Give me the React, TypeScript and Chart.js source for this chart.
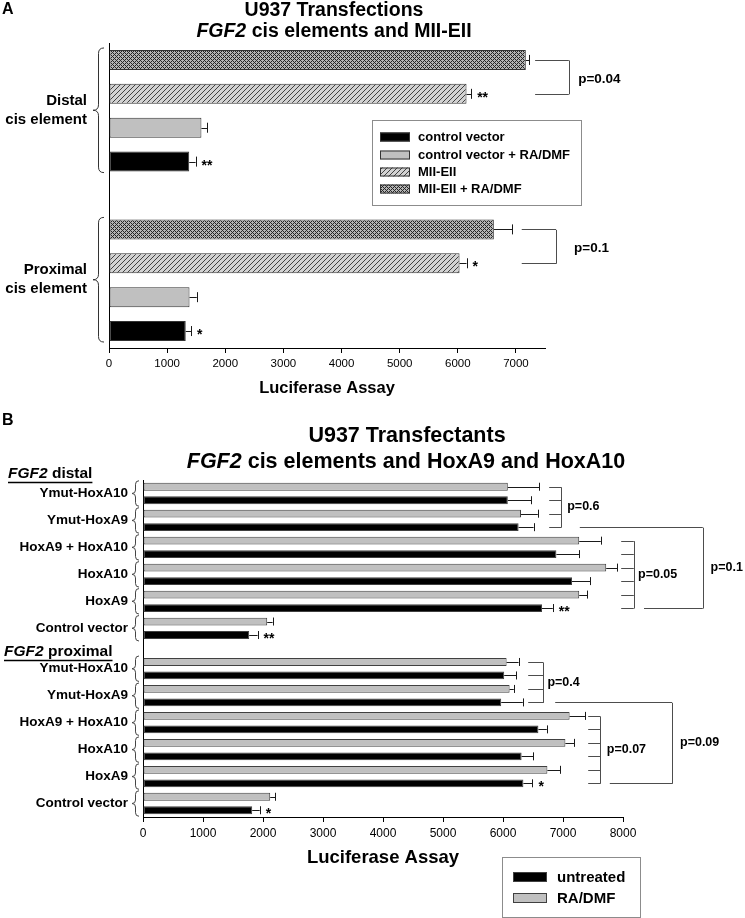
import React, { useEffect, useRef } from "react";
import { Chart, registerables } from "chart.js";

Chart.register(...registerables);

const FONT = "'Liberation Sans', Arial, Helvetica, sans-serif";

/* ================= Panel A : U937 Transfections ================= */
const aElements = ["Distal", "Proximal"];
const aElementLines = [["Distal", "cis element"], ["Proximal", "cis element"]];
const aSeries = ["control vector", "control vector + RA/DMF", "MII-EII", "MII-EII + RA/DMF"];
const aControl = [1380, 1320];
const aControlErr = [110, 90];
const aControlRA = [1590, 1385];
const aControlRAErr = [100, 125];
const aMII = [6150, 6030];
const aMIIErr = [80, 120];
const aMIIRA = [7170, 6620];
const aMIIRAErr = [55, 320];
const aXTicks = [0, 1000, 2000, 3000, 4000, 5000, 6000, 7000];
const aXMax = 7500;
const aPValues = ["p=0.04", "p=0.1"];
const aStarSeries = [2, 0, 2, 0];
const aStarElement = [0, 0, 1, 1];
const aStarText = ["**", "**", "*", "*"];

/* ================= Panel B : U937 Transfectants ================= */
const bSections = ["distal", "proximal"];
const bConstructs = ["Ymut-HoxA10", "Ymut-HoxA9", "HoxA9 + HoxA10", "HoxA10", "HoxA9", "Control vector"];
const bSeries = ["untreated", "RA/DMF"];
const bDistalUntreated = [6080, 6260, 6890, 7150, 6650, 1770];
const bDistalUntreatedErr = [390, 250, 380, 300, 180, 140];
const bDistalRA = [6080, 6300, 7270, 7720, 7270, 2070];
const bDistalRAErr = [520, 280, 360, 180, 130, 90];
const bProxUntreated = [6020, 5970, 6590, 6310, 6340, 1820];
const bProxUntreatedErr = [200, 360, 140, 190, 150, 125];
const bProxRA = [6060, 6110, 7110, 7040, 6740, 2120];
const bProxRAErr = [200, 70, 260, 150, 210, 80];
const bXTicks = [0, 1000, 2000, 3000, 4000, 5000, 6000, 7000, 8000];
const bXMax = 8000;
const bPValuesInner = ["p=0.6", "p=0.05", "p=0.4", "p=0.07"];
const bPValuesOuter = ["p=0.1", "p=0.09"];
const bStarSection = [0, 0, 1, 1];
const bStarGroup = [4, 5, 4, 5];
const bStarText = ["**", "**", "*", "*"];

/* ---------- annotation geometry (in axis value units) ---------- */
const aBracketGeom = [
  { element: 0, series: [3, 2], from: 7330, to: 7910, textAt: 8070 },
  { element: 1, series: [3, 2], from: 7100, to: 7690, textAt: 8000 },
];
const bInnerGeom = [
  { section: 0, groups: [0, 1], from: 6770, to: 6970, textAt: 7070 },
  { section: 0, groups: [2, 3, 4], from: 7970, to: 8180, textAt: 8250 },
  { section: 1, groups: [0, 1], from: 6420, to: 6670, textAt: 6740 },
  { section: 1, groups: [2, 3, 4], from: 7420, to: 7620, textAt: 7730 },
];
const bOuterGeom = [
  { section: 0, topGroup: 1, botGroup: 4, topFrom: 7280, botFrom: 8350, at: 9330, textAt: 9460 },
  { section: 1, topGroup: 1, botGroup: 4, topFrom: 6870, botFrom: 7780, at: 8820, textAt: 8950 },
];

/* ---------------- helpers ---------------- */
const aValues = [aControl, aControlRA, aMII, aMIIRA];
const aErrors = [aControlErr, aControlRAErr, aMIIErr, aMIIRAErr];
const A_SLOTS = 9;
function slotA(series: number, element: number) {
  return element * 5 + (3 - series);
}
const B_SLOTS = 25;
function slotB(section: number, group: number, series: number) {
  return section * 13 + group * 2 + (series === 1 ? 0 : 1);
}
const bValues = [
  [bDistalUntreated, bProxUntreated],
  [bDistalRA, bProxRA],
];
const bErrors = [
  [bDistalUntreatedErr, bProxUntreatedErr],
  [bDistalRAErr, bProxRAErr],
];

function txt(ctx: any, s: string, x: number, y: number, font: string, align = "left", baseline = "middle") {
  ctx.font = font;
  ctx.textAlign = align;
  ctx.textBaseline = baseline;
  ctx.fillText(s, x, y);
}

function rich(ctx: any, parts: { t: string; i?: boolean }[], x: number, y: number, size: number, align: string) {
  const fonts = parts.map((p) => `${p.i ? "italic " : ""}bold ${size}px ${FONT}`);
  const widths = parts.map((p, k) => {
    ctx.font = fonts[k];
    return ctx.measureText(p.t).width;
  });
  const total = widths.reduce((a, b) => a + b, 0);
  let cx = align === "center" ? x - total / 2 : align === "right" ? x - total : x;
  const left = cx;
  ctx.textAlign = "left";
  ctx.textBaseline = "middle";
  parts.forEach((p, k) => {
    ctx.font = fonts[k];
    ctx.fillText(p.t, cx, y);
    cx += widths[k];
  });
  return { left, right: cx };
}

function hline(ctx: any, x0: number, x1: number, y: number) {
  const yy = Math.round(y) + 0.5;
  ctx.beginPath();
  ctx.moveTo(x0, yy);
  ctx.lineTo(x1, yy);
  ctx.stroke();
}
function vline(ctx: any, x: number, y0: number, y1: number) {
  const xx = Math.round(x) + 0.5;
  ctx.beginPath();
  ctx.moveTo(xx, y0);
  ctx.lineTo(xx, y1);
  ctx.stroke();
}

function brace(ctx: any, xr: number, y0: number, y1: number, w: number) {
  const xs = xr - w * 0.5;
  const xt = xr - w;
  const ym = (y0 + y1) / 2;
  const r = Math.min(w * 0.5, (y1 - y0) / 4);
  ctx.beginPath();
  ctx.moveTo(xr, y0);
  ctx.quadraticCurveTo(xs, y0, xs, y0 + r);
  ctx.lineTo(xs, ym - r);
  ctx.quadraticCurveTo(xs, ym, xt, ym);
  ctx.quadraticCurveTo(xs, ym, xs, ym + r);
  ctx.lineTo(xs, y1 - r);
  ctx.quadraticCurveTo(xs, y1, xr, y1);
  ctx.stroke();
}

function drawErrorBars(chart: any, capHalf: number) {
  const xs = chart.scales.x;
  const ctx = chart.ctx;
  ctx.strokeStyle = "#1a1a1a";
  ctx.lineWidth = 1;
  chart.data.datasets.forEach((ds: any, di: number) => {
    const meta = chart.getDatasetMeta(di);
    ds.data.forEach((v: any, i: number) => {
      const e = ds.errors ? ds.errors[i] : null;
      if (v == null || e == null) return;
      const el: any = meta.data[i];
      const x0 = xs.getPixelForValue(v);
      const x1 = xs.getPixelForValue(v + e);
      hline(ctx, x0, x1, el.y);
      vline(ctx, x1, el.y - capHalf, el.y + capHalf);
    });
  });
}

function makePatterns() {
  const h = document.createElement("canvas");
  h.width = 5;
  h.height = 5;
  const hg = h.getContext("2d")!;
  hg.fillStyle = "#d2d2d2";
  hg.fillRect(0, 0, 5, 5);
  hg.strokeStyle = "#404040";
  hg.lineWidth = 1;
  hg.beginPath();
  hg.moveTo(-1, 6);
  hg.lineTo(6, -1);
  hg.moveTo(-1, 1);
  hg.lineTo(1, -1);
  hg.moveTo(4, 6);
  hg.lineTo(6, 4);
  hg.stroke();
  const hatch = hg.createPattern(h, "repeat");

  const c = document.createElement("canvas");
  c.width = 4;
  c.height = 4;
  const cg = c.getContext("2d")!;
  cg.fillStyle = "#b4b4b4";
  cg.fillRect(0, 0, 4, 4);
  cg.fillStyle = "#262626";
  for (let i = 0; i < 4; i++) {
    for (let j = 0; j < 4; j++) {
      if ((i + j) % 4 === 0 || (i - j + 4) % 4 === 0) cg.fillRect(i, j, 1, 1);
    }
  }
  const cross = cg.createPattern(c, "repeat");
  return { hatch, cross };
}

function linearX(max: number, ticks: number[], size: number, pad: number, height: number) {
  return {
    type: "linear",
    min: 0,
    max,
    afterBuildTicks: (scale: any) => {
      scale.ticks = ticks.map((v) => ({ value: v }));
    },
    ticks: {
      font: { family: FONT, size },
      color: "#000",
      padding: pad,
      maxRotation: 0,
      autoSkip: false,
      callback: (v: any) => String(v),
    },
    grid: { drawOnChartArea: false, drawTicks: true, tickLength: 5, color: "#000" },
    border: { display: true, color: "#000", width: 1 },
    afterFit: (scale: any) => {
      scale.height = height;
    },
  };
}
const yHidden = {
  type: "category",
  ticks: { display: false },
  grid: { display: false, drawTicks: false },
  border: { display: true, color: "#000", width: 1 },
  afterFit: (scale: any) => {
    scale.width = 0;
  },
};

/* ---------------- Panel A chart ---------------- */
function buildA(p: any) {
  const fills = ["#000000", "#c0c0c0", p.hatch, p.cross];
  const labels = Array.from({ length: A_SLOTS }, () => "");
  aElements.forEach((el, e) => aSeries.forEach((s, k) => (labels[slotA(k, e)] = `${el} ${s}`)));
  const datasets = aSeries.map((name, s) => {
    const data: (number | null)[] = Array(A_SLOTS).fill(null);
    const errors: (number | null)[] = Array(A_SLOTS).fill(null);
    aElements.forEach((_, e) => {
      data[slotA(s, e)] = aValues[s][e];
      errors[slotA(s, e)] = aErrors[s][e];
    });
    return {
      label: name,
      data,
      errors,
      backgroundColor: fills[s],
      borderColor: "#333",
      borderWidth: 1,
      borderSkipped: false,
      grouped: false,
      categoryPercentage: 1,
      barPercentage: 0.59,
    };
  });

  const plugin = {
    id: "panelA",
    afterDraw(chart: any) {
      const ctx = chart.ctx;
      const xs = chart.scales.x;
      const ys = chart.scales.y;
      ctx.save();
      drawErrorBars(chart, 5);
      ctx.fillStyle = "#000";
      // significance stars
      aStarText.forEach((t, k) => {
        const s = aStarSeries[k];
        const e = aStarElement[k];
        const x = xs.getPixelForValue(aValues[s][e] + aErrors[s][e]) + 6;
        const y = ys.getPixelForValue(slotA(s, e));
        txt(ctx, t, x, y + 8, `bold 14px ${FONT}`, "left", "alphabetic");
      });
      // brackets
      ctx.strokeStyle = "#4d4d4d";
      ctx.lineWidth = 1;
      aBracketGeom.forEach((b, k) => {
        const ysList = b.series.map((s) => ys.getPixelForValue(slotA(s, b.element)));
        const x0 = xs.getPixelForValue(b.from);
        const x1 = xs.getPixelForValue(b.to);
        ysList.forEach((y) => hline(ctx, x0, x1, y));
        vline(ctx, x1, Math.min(...ysList) + 0.5, Math.max(...ysList) + 0.5);
        const mid = (ysList[0] + ysList[ysList.length - 1]) / 2;
        txt(ctx, aPValues[k], xs.getPixelForValue(b.textAt), mid + 2, `bold 13.5px ${FONT}`);
      });
      // element braces & labels
      aElements.forEach((_, e) => {
        const yTop = ys.getPixelForValue(slotA(3, e)) - 12;
        const yBot = ys.getPixelForValue(slotA(0, e)) + 11;
        ctx.strokeStyle = "#333";
        brace(ctx, 104, yTop, yBot, 11);
        const mid = (yTop + yBot) / 2;
        txt(ctx, aElementLines[e][0], 87, mid - 9.5, `bold 15px ${FONT}`, "right");
        txt(ctx, aElementLines[e][1], 87, mid + 9.5, `bold 15px ${FONT}`, "right");
      });
      // legend
      ctx.strokeStyle = "#8c8c8c";
      ctx.strokeRect(372.5, 120.5, 209, 85);
      const rows = [137, 155, 172, 189];
      aSeries.forEach((name, s) => {
        ctx.fillStyle = fills[s];
        ctx.fillRect(380, rows[s] - 4.5, 30, 9);
        ctx.strokeStyle = "#333";
        ctx.strokeRect(380.5, rows[s] - 4, 29, 8);
        ctx.fillStyle = "#000";
        txt(ctx, name, 418, rows[s] + 0.5, `bold 13px ${FONT}`);
      });
      // panel letter and titles
      ctx.fillStyle = "#000";
      txt(ctx, "A", 2, 10, `bold 16px ${FONT}`);
      txt(ctx, "U937 Transfections", 334, 11, `bold 19.5px ${FONT}`, "center");
      rich(ctx, [{ t: "FGF2", i: true }, { t: " cis elements and MII-EII" }], 334, 32, 19.5, "center");
      // x axis title
      txt(ctx, "Luciferase Assay", (xs.left + xs.right) / 2, 388, `bold 16.5px ${FONT}`, "center");
      ctx.restore();
    },
  };

  return {
    type: "bar",
    data: { labels, datasets },
    options: {
      indexAxis: "y",
      animation: false,
      responsive: false,
      devicePixelRatio: 1,
      layout: { padding: { left: 109, right: 200, top: 43, bottom: 0 } },
      plugins: { legend: { display: false }, tooltip: { enabled: false }, title: { display: false } },
      scales: {
        x: linearX(aXMax, aXTicks, 11.5, 4, 52),
        y: yHidden,
      },
    },
    plugins: [plugin],
  };
}

/* ---------------- Panel B chart ---------------- */
function buildB() {
  const fills = ["#000000", "#c0c0c0"];
  const labels = Array.from({ length: B_SLOTS }, () => "");
  bSections.forEach((sec, si) =>
    bConstructs.forEach((c, g) => bSeries.forEach((s, k) => (labels[slotB(si, g, k)] = `${sec} ${c} ${s}`)))
  );
  const datasets = bSeries.map((name, k) => {
    const data: (number | null)[] = Array(B_SLOTS).fill(null);
    const errors: (number | null)[] = Array(B_SLOTS).fill(null);
    bSections.forEach((_, si) =>
      bConstructs.forEach((_, g) => {
        data[slotB(si, g, k)] = bValues[k][si][g];
        errors[slotB(si, g, k)] = bErrors[k][si][g];
      })
    );
    return {
      label: name,
      data,
      errors,
      backgroundColor: fills[k],
      borderColor: "#404040",
      borderWidth: 1,
      borderSkipped: false,
      grouped: false,
      categoryPercentage: 1,
      barPercentage: 0.58,
    };
  });

  const plugin = {
    id: "panelB",
    afterDraw(chart: any) {
      const ctx = chart.ctx;
      const xs = chart.scales.x;
      const ys = chart.scales.y;
      ctx.save();
      drawErrorBars(chart, 4);
      ctx.fillStyle = "#000";
      bStarText.forEach((t, k) => {
        const si = bStarSection[k];
        const g = bStarGroup[k];
        const x = xs.getPixelForValue(bValues[0][si][g] + bErrors[0][si][g]) + 6;
        const y = ys.getPixelForValue(slotB(si, g, 0));
        txt(ctx, t, x, y + 8, `bold 14px ${FONT}`, "left", "alphabetic");
      });
      ctx.strokeStyle = "#4d4d4d";
      ctx.lineWidth = 1;
      bInnerGeom.forEach((b, k) => {
        const list: number[] = [];
        b.groups.forEach((g) => {
          list.push(ys.getPixelForValue(slotB(b.section, g, 1)));
          list.push(ys.getPixelForValue(slotB(b.section, g, 0)));
        });
        const x0 = xs.getPixelForValue(b.from);
        const x1 = xs.getPixelForValue(b.to);
        list.forEach((y) => hline(ctx, x0, x1, y));
        vline(ctx, x1, Math.min(...list) + 0.5, Math.max(...list) + 0.5);
        const mid = (list[0] + list[list.length - 1]) / 2;
        txt(ctx, bPValuesInner[k], xs.getPixelForValue(b.textAt), mid, `bold 12.5px ${FONT}`);
      });
      bOuterGeom.forEach((b, k) => {
        const yT = ys.getPixelForValue(slotB(b.section, b.topGroup, 0));
        const yB = ys.getPixelForValue(slotB(b.section, b.botGroup, 0));
        const xv = xs.getPixelForValue(b.at);
        hline(ctx, xs.getPixelForValue(b.topFrom), xv, yT);
        hline(ctx, xs.getPixelForValue(b.botFrom), xv, yB);
        vline(ctx, xv, yT + 0.5, yB + 0.5);
        txt(ctx, bPValuesOuter[k], xs.getPixelForValue(b.textAt), (yT + yB) / 2, `bold 12.5px ${FONT}`);
      });
      // construct labels & braces
      bSections.forEach((_, si) =>
        bConstructs.forEach((c, g) => {
          const yTop = ys.getPixelForValue(slotB(si, g, 1)) - 6;
          const yBot = ys.getPixelForValue(slotB(si, g, 0)) + 6;
          ctx.strokeStyle = "#444";
          brace(ctx, 139, yTop, yBot, 7);
          ctx.fillStyle = "#000";
          txt(ctx, c, 128, (yTop + yBot) / 2, `bold 13.5px ${FONT}`, "right");
        })
      );
      // section headers
      ctx.fillStyle = "#000";
      ctx.strokeStyle = "#000";
      const headY = [74, 252];
      const headX = [8, 4];
      bSections.forEach((sec, si) => {
        const r = rich(ctx, [{ t: "FGF2", i: true }, { t: " " + sec }], headX[si], headY[si], 15.5, "left");
        ctx.lineWidth = 1.3;
        hline(ctx, r.left, r.right, headY[si] + 8);
        ctx.lineWidth = 1;
      });
      // legend
      ctx.strokeStyle = "#8c8c8c";
      ctx.strokeRect(502.5, 457.5, 138, 60);
      const rows = [477, 498];
      bSeries.forEach((name, k) => {
        ctx.fillStyle = fills[k];
        ctx.fillRect(513, rows[k] - 5, 34, 10);
        ctx.strokeStyle = "#404040";
        ctx.strokeRect(513.5, rows[k] - 4.5, 33, 9);
        ctx.fillStyle = "#000";
        txt(ctx, name, 557, rows[k] + 0.5, `bold 15px ${FONT}`);
      });
      // letter and titles
      txt(ctx, "B", 2, 21, `bold 16px ${FONT}`);
      txt(ctx, "U937 Transfectants", 407, 36, `bold 21.5px ${FONT}`, "center");
      rich(ctx, [{ t: "FGF2", i: true }, { t: " cis elements and HoxA9 and HoxA10" }], 406, 62, 21.5, "center");
      txt(ctx, "Luciferase Assay", (xs.left + xs.right) / 2, 458, `bold 18.5px ${FONT}`, "center");
      ctx.restore();
    },
  };

  return {
    type: "bar",
    data: { labels, datasets },
    options: {
      indexAxis: "y",
      animation: false,
      responsive: false,
      devicePixelRatio: 1,
      layout: { padding: { left: 143, right: 122, top: 80, bottom: 0 } },
      plugins: { legend: { display: false }, tooltip: { enabled: false }, title: { display: false } },
      scales: {
        x: linearX(bXMax, bXTicks, 12, 4, 101),
        y: yHidden,
      },
    },
    plugins: [plugin],
  };
}

export default function App() {
  const refA = useRef<HTMLCanvasElement>(null);
  const refB = useRef<HTMLCanvasElement>(null);
  useEffect(() => {
    const pats = makePatterns();
    const ca = new Chart(refA.current as any, buildA(pats) as any);
    const cb = new Chart(refB.current as any, buildB() as any);
    return () => {
      ca.destroy();
      cb.destroy();
    };
  }, []);
  return (
    <div style={{ position: "absolute", left: 0, top: 0, width: 745, height: 918, background: "#fff" }}>
      <canvas
        ref={refA}
        width={745}
        height={400}
        style={{ position: "absolute", left: 0, top: 0, width: 745, height: 400, display: "block" }}
      />
      <canvas
        ref={refB}
        width={745}
        height={518}
        style={{ position: "absolute", left: 0, top: 400, width: 745, height: 518, display: "block" }}
      />
    </div>
  );
}
